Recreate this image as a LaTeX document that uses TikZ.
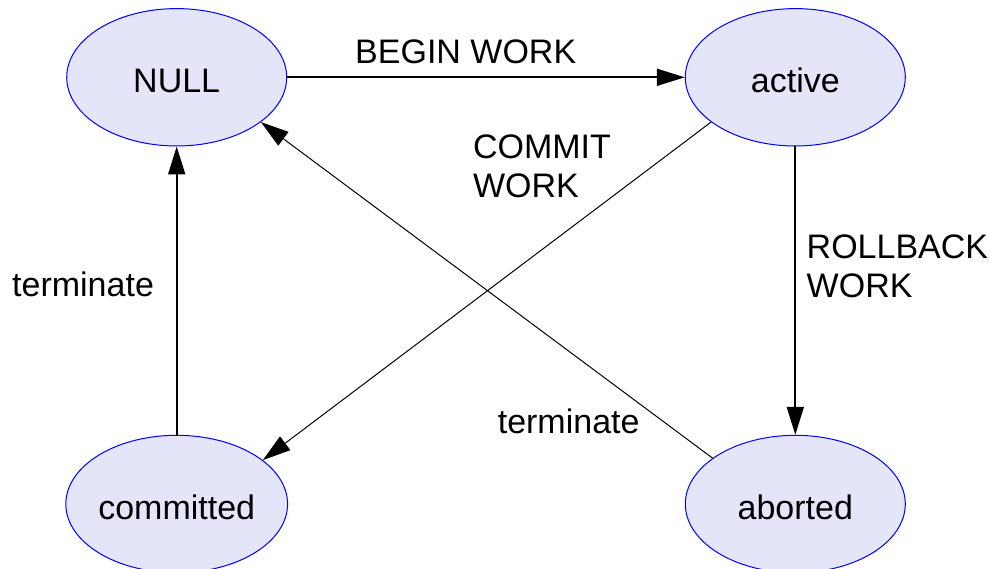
\documentclass[tikz,border=0pt]{standalone}
\usepackage{fontspec}
\setmainfont{Liberation Sans}
\usetikzlibrary{shapes.geometric,arrows.meta}
\definecolor{statefill}{RGB}{229,229,250}
\begin{document}
\begin{tikzpicture}[x=1pt,y=-1pt,
  state/.style={ellipse,draw=blue,line width=1pt,fill=statefill,
    minimum width=220pt,minimum height=137.4pt,inner sep=0pt,
    text height=30.8pt,text depth=0pt,
    font=\fontsize{34}{38.5}\selectfont},
  lbl/.style={inner sep=0pt,font=\fontsize{34}{38.5}\selectfont},
  thickedge/.style={line width=1.8pt,-{Triangle[length=28pt,width=17pt]}},
  thinedge/.style={line width=1pt,-{Triangle[length=28pt,width=17pt]}}]
\useasboundingbox (0,0) rectangle (990,569);

% states
\node[state] (null)      at (176.7,77.3)  {NULL};
\node[state] (active)    at (795.3,77.3)  {active};
\node[state] (committed) at (176.7,504)   {committed};
\node[state] (aborted)   at (795.3,504)   {aborted};

% transitions
\draw[thickedge] (null.east) -- (active.west);
\draw[thickedge] (active.south) -- (aborted.north);
\draw[thickedge] (committed.north) -- (null.south);
\draw[thinedge] (active.208.7) -- (committed.27.4);
\draw[thinedge] (aborted.151.2) -- (null.332.4);

% transition labels
\node[lbl,anchor=base west] (lbegin) at (355,63.3) {BEGIN WORK};
\node[lbl,anchor=north west,align=left] (lcommit) at (472.8,134.7) {COMMIT\\WORK};
\node[lbl,anchor=north west,align=left] (lrollback) at (806.5,234.7) {ROLLBACK\\WORK};
\node[lbl,anchor=base west] (lterm1) at (12,296.7) {terminate};
\node[lbl,anchor=base west] (lterm2) at (497.6,433.3) {terminate};
\end{tikzpicture}
\end{document}
